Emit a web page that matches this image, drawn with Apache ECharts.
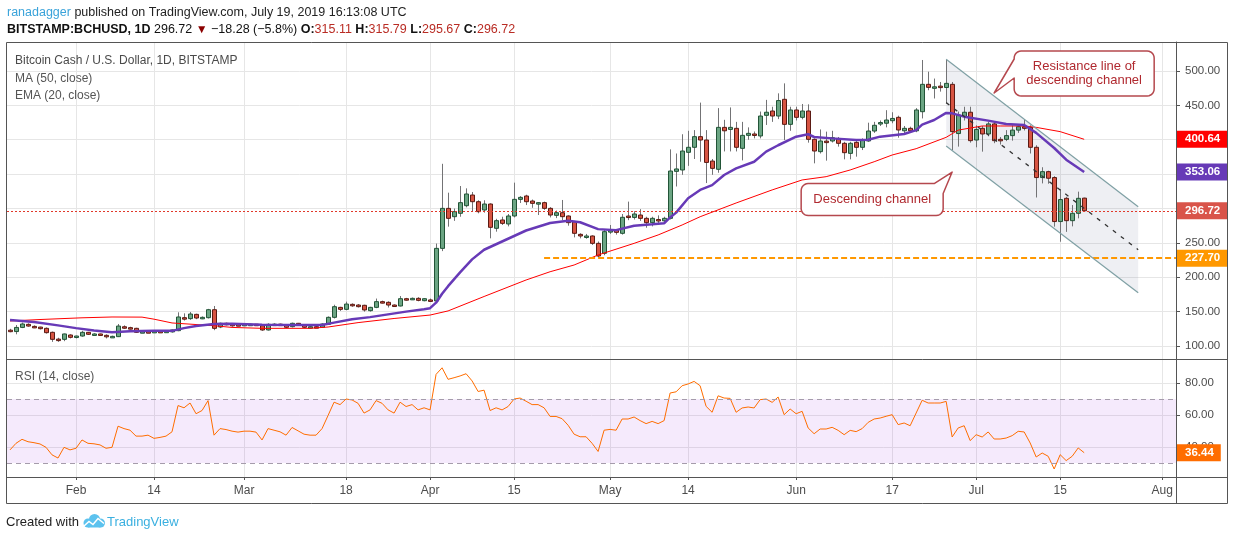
<!DOCTYPE html>
<html>
<head>
<meta charset="utf-8">
<title>BCHUSD 1D</title>
<script src="https://cdn.jsdelivr.net/npm/echarts@6/dist/echarts.min.js"></script>
<style>
html,body{margin:0;padding:0;background:#ffffff;}
#chart{width:1234px;height:540px;}
</style>
</head>
<body>
<div id="chart"></div>
<script>
// ---------------- data ----------------
const firstDate = '2019-01-21';   // one candle per day from here to 2019-07-19
const openP = [
123,121,127,131.5,128.5,127.5,125.7,119.9,110,109.7,116,
112.6,114.5,119.9,117.2,117.5,115.5,113.4,113.6,128,126.7,125.7,120,120.8,120.5,121.3,121,120.5,122.3,141.2,139.8,146,140.2,141.2,152.8,127.6,133,131.5,131,
129.6,131.5,131.7,129.5,123.3,131.5,131.8,130.5,128.1,133,130.5,127.2,128.1,127.2,131.5,141.7,156.2,153.3,160.6,159.6,159.2,151.4,156.2,164.5,163.5,159.6,158.2,168.8,168,169.3,165.9,
167,165.5,242,300.2,288.1,293,304.1,319.6,309.9,297.8,306.5,271.2,283.3,277.5,289.1,313.3,318.2,310.9,306.5,308.5,300.2,290,293.9,289.1,280.8,262.4,259,260,249.3,234.8,
266.3,268.7,263.9,289,287,290.5,285.7,279.4,284,282,285.7,354,356,381.7,389,404.5,399.6,369,357,418,415,416.6,387.5,406.4,408.4,405.5,435.5,441.8,434.5,458.8,422.4,
443.3,432.6,441.8,400.6,382.7,398,398.2,401,394.8,380.2,396.2,389,398.2,412.7,423,424,427.7,432.6,413,416.6,413,440.8,480.6,474.8,478,476,480.6,409,433.6,440,
399.6,416.6,408.4,423,400.6,400.6,406,414,419,418,389,345,353.6,345,281,314.8,282.3,293,315.11];
const highP = [
125,130.5,134,133,130,128,127,121,112,118,117,
115,122,120.5,118.5,118,117,115,132,130,128,126.5,122,122,122,122.5,122.5,124,149,147.5,149.5,147,143,154,158.2,134,134,133,133,
133,132.5,132,131,133,133,132.5,132,134,133.5,131,129,129,133,143,160,157,164.5,162,161,160,157,169,166,165,160.5,172.7,170,170.5,171,169.5,
169,249,365,323,300,332.7,329.3,324,312,312,307.5,285,288,292,337.6,318,320,313,309,310,302,297,312.4,290,282,264,263,261,252,268.7,
276,270,292,310,296,299,288,288,290,288,386,380,408,413,414,454,414,372,446,429,447,426,426,418,412,441,458,448,467.5,482,448,
448,452,451.5,402,415,411.8,413,404,397,397,398,402,424.8,426,428,443,440,435,420,419,446,516,499,489,484,516,484,441,448,448,
421,420,426,426,404,414,421,421,430,421,392,360,355,347,328,317,305,324.5,315.79];
const lowP = [
120,117,126,128,126,124,118,106,106,107,111,
111,113.5,116,116,116,111,112.5,113,125,124,119,119,119.5,119.5,120,120.5,119.5,121.5,137,138,139,139,140,123,126,130,128,129,
129,130.5,129.5,122,122.5,130,130,126,127,129.5,126,125.5,126.5,126.5,130.5,140,151,152,157,156,150,150,155,162,156,157,157.5,166,167,165,165,
164.5,164,238,273.6,282,288,301.7,295.4,293,294,256.6,266.3,276,274,287,308,305,301,290.5,298,287,286,283,275,258,256.6,256,247,229,232,
263,262,262,283,284,282,272,274,278,279,284,332,349,362,372,368,337,349,352,383,383,383,370,400,402,402,421.5,426,430,399.6,413,
428,429.7,395.8,365.7,380,369.6,396,390,371.5,371.5,375.4,385,397,410,420,418,424,403,409,410,411,431,472,460,470,453,385,390,428,395.8,
389,382.7,405,395,393,398,398.7,410,413.5,380,316,336.5,336,273.6,251.7,266,274,285.7,295.67];
const closeP = [
122,127,132,129,127.6,125.2,119.4,109.7,109,117.5,112.6,
114.5,119.9,117,117.5,117,113.6,114,129,126.7,125.5,119.9,120.8,120.5,121.3,121,121.5,123.3,142.2,139.8,146.5,140.7,141.7,152.8,125.7,133,131.5,131,130.5,
131.5,131.7,131,123.3,131.5,131.8,131,127.2,133,130.5,127.2,128.1,127.8,132,141.7,157.2,153.3,161,159.2,157.2,152.4,156.2,164.5,163,159.6,158.7,168.8,168.5,169.3,166.4,168.8,
165.5,242,300.2,285.7,295.4,308.5,321.1,309.9,295.4,306.5,272.6,282.3,278.4,289.1,313.3,316.2,309.9,307.5,308.5,300.2,290.5,293.9,288.1,279.4,263.9,260,260,249.3,230.9,266.3,
267.8,265.3,287.2,287,292,285.7,279.4,285.7,282,285.7,354.5,357.5,383.6,389,404.5,399.6,367,358.4,418,413,418,389,406.4,409.3,406.4,434.5,440,434.5,457,422.4,443.3,
432.6,441.8,400.6,383.6,398.2,397,403,394.8,381.2,394.8,389,399.6,412.7,421,425,428.7,431,414.2,416.6,413,443.3,480.6,476.2,477,477,482,411.8,436,440,398.7,
415,408.4,423,398.7,398.7,406,414,419,416.6,389,345,353.6,344,281,313,282.3,293,314.8,296.72];
const rsiValues = [
38.2,42.3,44.8,43.3,42.7,41.9,39.8,35.1,33.1,39.8,38.2,
39.2,44.4,42.3,42,41.3,39.2,39.8,53,51.5,50.5,46.8,46.8,47.4,45.4,46,46.8,49.5,65.9,64.5,67.5,60.8,62.8,69,47.4,51.5,50.9,49.9,49.3,
49.9,49.9,49.3,44.4,51.5,50.5,49.5,47.4,52.2,50.1,48,47.4,47.4,51.5,59.7,68,66.5,70,69.4,67.3,61.2,63.2,69,67.3,63.2,61.2,68,65.3,66.5,63.2,64.5,
63.2,85.4,89.5,82.3,83.3,84.4,85.8,81.3,74.7,75.5,62.8,64.5,63.2,65.3,70,70.6,68.6,66.5,66.5,64.5,59.1,59.1,57.7,53.6,48,46.4,46.4,42.3,37.2,50.5,
51,50.5,57.5,57.5,58.75,56.5,54.6,56,54.6,56.5,73.75,74.5,78.3,79.4,81,78.3,65.4,61.7,72,70.6,70.4,61.7,64.4,65,64.4,69.6,70,67.9,71.25,60.2,63.75,
60.8,62.3,51.9,48.3,51.25,51.25,52.3,50.4,47.7,50.4,49.6,51.5,55.4,57.5,58.1,59.2,60.2,54,55,53.3,61.25,69.2,67.5,67.5,67.5,68.5,46.25,51.9,53.3,44,
47.7,46.25,49.4,45,45,45.6,47.1,49.8,49.4,42.5,33.75,36.25,34.2,26.25,35.2,31.5,34.2,39.4,36.44];
const emaDates = ['2019-01-21','2019-01-25','2019-01-29','2019-02-01','2019-02-04','2019-02-07','2019-02-10','2019-02-14','2019-02-17','2019-02-19','2019-02-21','2019-02-24','2019-02-27','2019-03-04','2019-03-09','2019-03-14','2019-03-16','2019-03-19','2019-03-22','2019-03-25','2019-03-28','2019-03-31','2019-04-01','2019-04-02','2019-04-03','2019-04-04','2019-04-06','2019-04-08','2019-04-10','2019-04-12','2019-04-14','2019-04-17','2019-04-21','2019-04-24','2019-04-26','2019-04-29','2019-05-02','2019-05-05','2019-05-08','2019-05-10','2019-05-11','2019-05-12','2019-05-14','2019-05-16','2019-05-18','2019-05-20','2019-05-22','2019-05-25','2019-05-27','2019-05-29','2019-06-01','2019-06-03','2019-06-04','2019-06-07','2019-06-11','2019-06-13','2019-06-15','2019-06-19','2019-06-21','2019-06-22','2019-06-24','2019-06-26','2019-06-27','2019-06-29','2019-07-03','2019-07-06','2019-07-09','2019-07-11','2019-07-14','2019-07-16','2019-07-19'];
const emaValues = [137.8,135,130,126,122.5,120,121.5,122,122,126,129,132,132.5,131,130.5,130.5,134,139,142,146,150,153.5,155,163,176,187,207,226,240,248,256,268,279,282.3,280,270,268.5,275,277,278.4,287,294,315,327,334,348.7,358.4,368,382.7,392,404.5,408,404,402,399.6,400,404.5,408.4,414,422,428.7,439,438.4,433.6,427.8,423,421.5,410,388,371,353.06];
const maDates = ['2019-01-21','2019-01-26','2019-02-02','2019-02-07','2019-02-12','2019-02-14','2019-02-17','2019-02-24','2019-02-27','2019-03-04','2019-03-12','2019-03-15','2019-03-20','2019-03-26','2019-04-01','2019-04-04','2019-04-10','2019-04-17','2019-04-21','2019-04-25','2019-04-29','2019-05-05','2019-05-09','2019-05-13','2019-05-16','2019-05-22','2019-05-28','2019-06-02','2019-06-06','2019-06-10','2019-06-14','2019-06-17','2019-06-21','2019-06-26','2019-06-28','2019-07-02','2019-07-05','2019-07-09','2019-07-11','2019-07-15','2019-07-19'];
const maValues = [136.4,138.5,141,142.2,142,139,133.5,129.5,127,125.7,125.7,127.6,134,140,145,151,172,196,208,217.8,232.4,249.3,261.5,276,288,308,327,341.5,346.3,356,368,377.8,387,403.5,414,420,420,420,418,411.8,400.64];
const tickDates = ['2019-02-01','2019-02-14','2019-03-01','2019-03-18','2019-04-01','2019-04-15','2019-05-01','2019-05-14','2019-06-01','2019-06-17','2019-07-01','2019-07-15','2019-08-01'];
const tickLabels = ['Feb','14','Mar','18','Apr','15','May','14','Jun','17','Jul','15','Aug'];
const priceTicks = [100,150,200,250,300,350,400,450,500];
const rsiTicks = [40,60,80];
const rsiBand = [30,70];
const lastClose = 296.72, lastMA = 400.64, lastEMA = 353.06, lastRSI = 36.44;
const supportLevel = 227.70, supportStart = '2019-04-20';
const channelUpper = [['2019-06-26',517],['2019-07-28',302.6]];
const channelLower = [['2019-06-26',391],['2019-07-28',177.5]];
const channelMid = [['2019-06-26',454],['2019-07-28',240]];
const noteResistanceTip = ['2019-07-04',468];
const noteChannelTip = ['2019-06-27',353];

// ---------------- helpers ----------------
const DAY = 86400000, BASE = Date.UTC(2019,1,1);
function dayOf(s){ const p = s.split('-'); return Math.round((Date.UTC(+p[0], +p[1]-1, +p[2]) - BASE) / DAY); }
const day0 = dayOf(firstDate);
const tickDays = tickDates.map(dayOf);
const candleData = openP.map((o,i) => [day0 + i, o, closeP[i], lowP[i], highP[i]]);
const rsiData = rsiValues.map((v,i) => [day0 + i, v]);
const emaData = emaDates.map((d,i) => [dayOf(d), emaValues[i]]);
const maData = maDates.map((d,i) => [dayOf(d), maValues[i]]);
const pts = a => a.map(p => [dayOf(p[0]), p[1]]);
const X_MIN = -11.5, X_MAX = 183.3;
const FONT = 'Liberation Sans, Arial, sans-serif';
const AX = '#555555', GRID = '#e6e6e6', LBL = '#4c4c4c';
const HIDDEN = 'rgba(0,0,0,0)';
const RIGHT_EDGE = 1227.5;

function xAxisCfg(gi, showLabels){
  return {
    type:'value', gridIndex:gi, min:X_MIN, max:X_MAX,
    axisLine:{show:showLabels, onZero:false, lineStyle:{color:AX, width:1}},
    axisTick:{show:showLabels, customValues:tickDays, length:3, lineStyle:{color:AX}},
    axisLabel:{show:showLabels, customValues:tickDays, color:LBL, fontSize:12, margin:8, fontFamily:FONT,
      formatter:v => { const k = tickDays.indexOf(Math.round(v)); return k >= 0 ? tickLabels[k] : ''; }},
    splitLine:{show:true, lineStyle:{color:GRID, width:1}}
  };
}
function yAxisCfg(gi, min, max, ticks){
  return {
    type:'value', gridIndex:gi, position:'right', min:min, max:max, scale:true,
    axisLine:{show:true, onZero:false, lineStyle:{color:AX, width:1}},
    axisTick:{show:true, customValues:ticks, length:4, lineStyle:{color:AX}},
    axisLabel:{customValues:ticks, color:LBL, fontSize:11.5, margin:9, fontFamily:FONT, formatter:v => v.toFixed(2)},
    splitLine:{show:true, lineStyle:{color:GRID, width:1}}
  };
}
function tagLabel(text, bg){
  return {show:true, position:'end', distance:1, formatter:text, color:'#ffffff', backgroundColor:bg,
    padding:[2.5,7,2.5,8], fontSize:11.5, fontWeight:'bold', fontFamily:FONT, opacity:1};
}

const chart = echarts.init(document.getElementById('chart'), null, {renderer:'canvas'});
const option = {
  animation:false,
  backgroundColor:'#ffffff',
  textStyle:{fontFamily:FONT},
  grid:[
    {left:7, right:58, top:42, height:317, outerBoundsMode:'none', containLabel:false},
    {left:7, right:58, top:359, height:118, outerBoundsMode:'none', containLabel:false}
  ],
  xAxis:[xAxisCfg(0,false), xAxisCfg(1,true)],
  yAxis:[yAxisCfg(0, 81.09, 542.18, priceTicks), yAxisCfg(1, 21.25, 95, rsiTicks)],
  series:[
    { // channel fill
      type:'custom', xAxisIndex:0, yAxisIndex:0, z:1, silent:true, clip:true,
      data:[[0]],
      renderItem:(params, api) => {
        const u = pts(channelUpper), l = pts(channelLower);
        return {type:'polygon', shape:{points:[api.coord(u[0]), api.coord(u[1]), api.coord(l[1]), api.coord(l[0])]},
          style:{fill:'rgba(120,134,160,0.13)'}};
      }
    },
    { // candles
      type:'custom', name:'BCHUSD', xAxisIndex:0, yAxisIndex:0, z:2, clip:true,
      encode:{x:0, y:[1,2,3,4]},
      data:candleData,
      renderItem:(params, api) => {
        const x = api.value(0), o = api.value(1), c = api.value(2), lo = api.value(3), hi = api.value(4);
        const pO = api.coord([x,o]), pC = api.coord([x,c]), pL = api.coord([x,lo]), pH = api.coord([x,hi]);
        const up = c >= o;
        const cx = Math.round(pO[0]) + 0.5;
        const top = Math.min(pO[1], pC[1]), bot = Math.max(pO[1], pC[1]);
        const h = Math.max(bot - top, 1.5);
        return {type:'group', children:[
          {type:'line', shape:{x1:cx, y1:pH[1], x2:cx, y2:pL[1]}, style:{stroke:'#737375', lineWidth:1}},
          {type:'rect', shape:{x:cx-2, y:top, width:4, height:h},
            style:{fill: up ? '#6ba583' : '#d75442', stroke: up ? '#225437' : '#5b1a13', lineWidth:1}}
        ]};
      }
    },
    { // MA 50
      type:'line', name:'MA (50, close)', xAxisIndex:0, yAxisIndex:0, z:3, data:maData, showSymbol:false, clip:false,
      lineStyle:{color:'#ff0000', width:1}, silent:true,
      markLine:{silent:true, symbol:['none','none'], animation:false,
        data:[
          {yAxis:lastClose, lineStyle:{color:'#e0392b', type:[2,2], width:1}, label:tagLabel(lastClose.toFixed(2), '#d9544a')},
          [{coord:[dayOf(supportStart), supportLevel], lineStyle:{color:'#ff9800', type:[6,3], width:2}, label:tagLabel(supportLevel.toFixed(2), '#ff9800')},
           {coord:[X_MAX, supportLevel]}],
          {yAxis:lastMA, lineStyle:{color:HIDDEN, width:0}, label:tagLabel(lastMA.toFixed(2), '#ff0000')},
          {yAxis:lastEMA, lineStyle:{color:HIDDEN, width:0}, label:tagLabel(lastEMA.toFixed(2), '#673ab7')}
        ]}
    },
    { // EMA 20
      type:'line', name:'EMA (20, close)', xAxisIndex:0, yAxisIndex:0, z:4, data:emaData, showSymbol:false,
      lineStyle:{color:'#673ab7', width:2.5}, silent:true
    },
    { type:'line', xAxisIndex:0, yAxisIndex:0, z:5, data:pts(channelUpper), showSymbol:false, silent:true,
      lineStyle:{color:'#7fa0a4', width:1.2} },
    { type:'line', xAxisIndex:0, yAxisIndex:0, z:5, data:pts(channelLower), showSymbol:false, silent:true,
      lineStyle:{color:'#7fa0a4', width:1.2} },
    { type:'line', xAxisIndex:0, yAxisIndex:0, z:5, data:pts(channelMid), showSymbol:false, silent:true,
      lineStyle:{color:'#333333', width:1.3, type:[4,6]} },
    { // RSI
      type:'line', name:'RSI (14, close)', xAxisIndex:1, yAxisIndex:1, z:3, data:rsiData, showSymbol:false, clip:false,
      lineStyle:{color:'#ff6d00', width:1}, silent:true,
      markArea:{silent:true, itemStyle:{color:'rgba(163,62,230,0.11)'}, data:[[{yAxis:rsiBand[0]},{yAxis:rsiBand[1]}]]},
      markLine:{silent:true, symbol:['none','none'], animation:false,
        data:[
          {yAxis:rsiBand[1], lineStyle:{color:'#a59cab', type:[5,4], width:1}, label:{show:false}},
          {yAxis:rsiBand[0], lineStyle:{color:'#a59cab', type:[5,4], width:1}, label:{show:false}},
          {yAxis:lastRSI, lineStyle:{color:HIDDEN, width:0}, label:tagLabel(lastRSI.toFixed(2), '#ff6d00')}
        ]}
    }
  ]
};
chart.setOption(option);

// ---------------- annotations / frame ----------------
const toPx = p => chart.convertToPixel({xAxisIndex:0, yAxisIndex:0}, [dayOf(p[0]), p[1]]);
const tR = toPx(noteResistanceTip), tC = toPx(noteChannelTip);
const NOTE_STROKE = '#b5484e', NOTE_TEXT = '#b0292f';

function arc(cx, cy, r, a0, a1){
  const out = [];
  for (let k = 0; k <= 6; k++) {
    const a = (a0 + (a1 - a0) * k / 6) * Math.PI / 180;
    out.push([cx + r * Math.cos(a), cy + r * Math.sin(a)]);
  }
  return out;
}
// resistance note: box right of its tip, tail from left side
const rb = {x: tR[0] + 20, y: tR[1] - 42, w: 140, h: 45, r: 7};
const rPoly = [].concat(
  arc(rb.x + rb.r, rb.y + rb.r, rb.r, 180, 270),
  arc(rb.x + rb.w - rb.r, rb.y + rb.r, rb.r, 270, 360),
  arc(rb.x + rb.w - rb.r, rb.y + rb.h - rb.r, rb.r, 0, 90),
  arc(rb.x + rb.r, rb.y + rb.h - rb.r, rb.r, 90, 180),
  [[rb.x, rb.y + 27], [tR[0], tR[1]], [rb.x, rb.y + 8]]
);
// channel note: box below-left of its tip, tail at top-right corner
const cb = {w: 142, h: 32, r: 7};
cb.x = tC[0] - 9 - cb.w; cb.y = tC[1] + 11.5;
const cPoly = [].concat(
  arc(cb.x + cb.r, cb.y + cb.r, cb.r, 180, 270),
  [[cb.x + cb.w - 9, cb.y], [tC[0], tC[1]], [cb.x + cb.w, cb.y + 10]],
  arc(cb.x + cb.w - cb.r, cb.y + cb.h - cb.r, cb.r, 0, 90),
  arc(cb.x + cb.r, cb.y + cb.h - cb.r, cb.r, 90, 180)
);

const txt = (x, y, text, extra) => ({type:'text', x:x, y:y, z:20,
  style:Object.assign({text:text, fontFamily:FONT, fontSize:12, fill:'#555555', verticalAlign:'middle'}, extra || {})});

chart.setOption({
  graphic:[
    // frame
    {type:'rect', z:30, silent:true, shape:{x:6.5, y:42.5, width:RIGHT_EDGE - 6.5, height:461}, style:{fill:'none', stroke:AX, lineWidth:1}},
    {type:'line', z:30, silent:true, shape:{x1:6.5, y1:359.5, x2:RIGHT_EDGE, y2:359.5}, style:{stroke:AX, lineWidth:1}},
    {type:'line', z:30, silent:true, shape:{x1:6.5, y1:477.5, x2:RIGHT_EDGE, y2:477.5}, style:{stroke:AX, lineWidth:1}},
    {type:'line', z:30, silent:true, shape:{x1:1176.5, y1:42.5, x2:1176.5, y2:503.5}, style:{stroke:AX, lineWidth:1}},
    // header
    {type:'text', x:7, y:13, z:20, style:{text:'{a|ranadagger}{b| published on TradingView.com, July 19, 2019 16:13:08 UTC}',
      verticalAlign:'middle', rich:{a:{fill:'#3aa3da', fontSize:12.5, fontFamily:FONT}, b:{fill:'#222222', fontSize:12.5, fontFamily:FONT}}}},
    {type:'text', x:7, y:29.5, z:20, style:{
      text:'{k|BITSTAMP:BCHUSD, 1D}{n| 296.72 }{t|▼}{n| \u221218.28 (\u22125.8%) }{k|O:}{r|315.11}{k| H:}{r|315.79}{k| L:}{r|295.67}{k| C:}{r|296.72}',
      verticalAlign:'middle',
      rich:{k:{fill:'#111111', fontWeight:'bold', fontSize:12.5, fontFamily:FONT},
            n:{fill:'#111111', fontSize:12.5, fontFamily:FONT},
            t:{fill:'#8b0000', fontSize:12, fontFamily:FONT},
            r:{fill:'#b92c24', fontSize:12.5, fontFamily:FONT}}}},
    // legends
    txt(15, 61, 'Bitcoin Cash / U.S. Dollar, 1D, BITSTAMP', {fill:'#4a4a4a'}),
    txt(15, 78.5, 'MA (50, close)'),
    txt(15, 95.5, 'EMA (20, close)'),
    txt(15, 377, 'RSI (14, close)'),
    // notes
    {type:'polygon', z:25, silent:true, shape:{points:rPoly}, style:{fill:'#ffffff', stroke:NOTE_STROKE, lineWidth:1.5, lineJoin:'round'}},
    {type:'text', z:26, x:rb.x + rb.w/2, y:rb.y + rb.h/2, style:{text:'Resistance line of\ndescending channel', fontFamily:FONT,
      fontSize:13, lineHeight:13.5, fill:NOTE_TEXT, align:'center', verticalAlign:'middle'}},
    {type:'polygon', z:25, silent:true, shape:{points:cPoly}, style:{fill:'#ffffff', stroke:NOTE_STROKE, lineWidth:1.5, lineJoin:'round'}},
    {type:'text', z:26, x:cb.x + cb.w/2, y:cb.y + cb.h/2, style:{text:'Descending channel', fontFamily:FONT,
      fontSize:13, fill:NOTE_TEXT, align:'center', verticalAlign:'middle'}},
    // footer
    txt(6, 522.5, 'Created with', {fill:'#222222', fontSize:13}),
    {type:'circle', z:20, silent:true, shape:{cx:88, cy:523, r:4.5}, style:{fill:'#5cc2ee'}},
    {type:'circle', z:20, silent:true, shape:{cx:94.5, cy:519.5, r:5.5}, style:{fill:'#5cc2ee'}},
    {type:'circle', z:20, silent:true, shape:{cx:100.5, cy:523, r:4.5}, style:{fill:'#5cc2ee'}},
    {type:'rect', z:20, silent:true, shape:{x:88, y:522, width:12.5, height:5.5}, style:{fill:'#5cc2ee'}},
    {type:'polyline', z:21, silent:true, shape:{points:[[84,526],[89,521.5],[93,524.5],[98,518.5],[104,523.5]]}, style:{stroke:'#ffffff', lineWidth:1.5, fill:null}},
    txt(107, 522.5, 'TradingView', {fill:'#3bb0e0', fontSize:13})
  ]
});
</script>
</body>
</html>
